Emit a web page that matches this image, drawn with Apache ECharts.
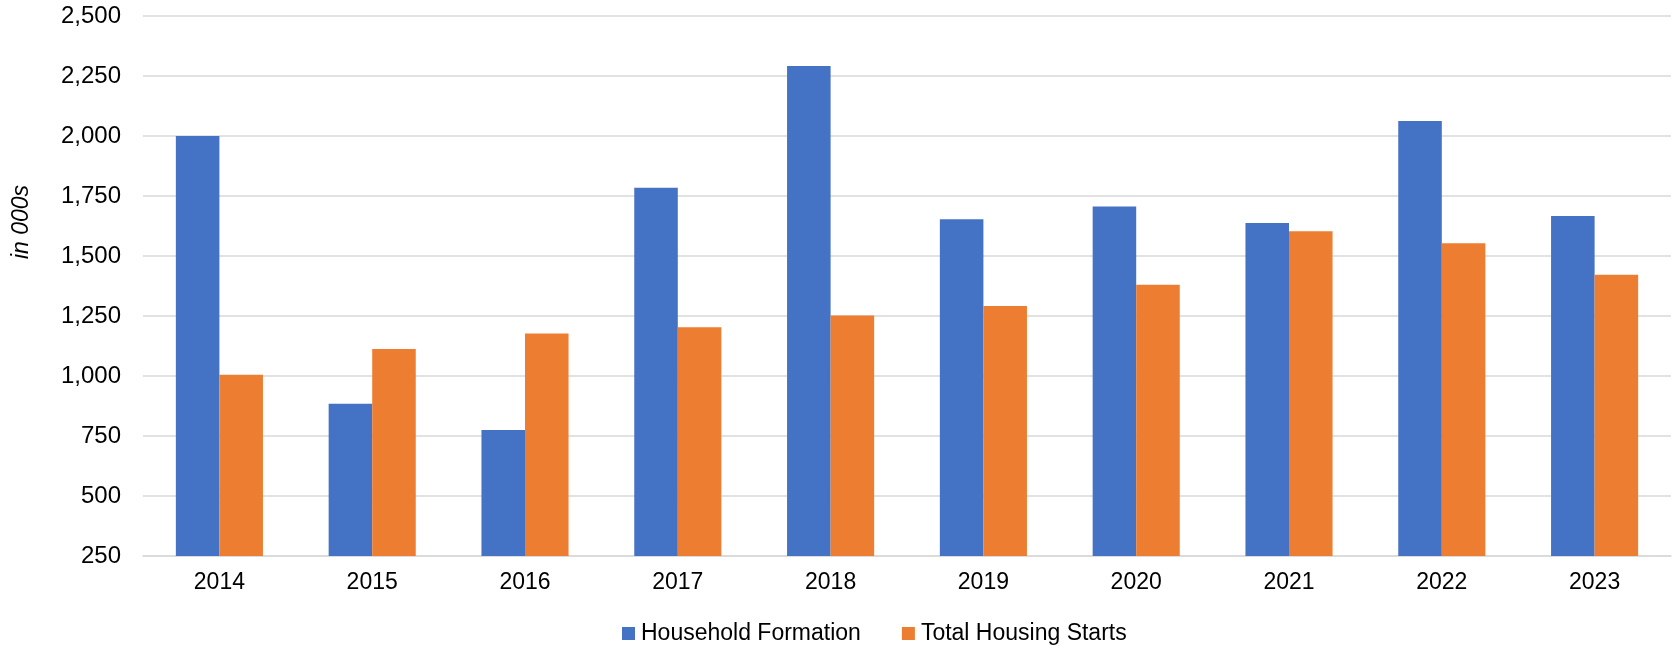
<!DOCTYPE html>
<html>
<head>
<meta charset="utf-8">
<script src="https://cdn.jsdelivr.net/npm/echarts@6/dist/echarts.min.js"></script>
<style>
  html, body { margin: 0; padding: 0; background: #fff; }
  #chart { width: 1673px; height: 649px; }
</style>
</head>
<body>
<div id="chart"></div>
<script>
// Annual household formation vs. total housing starts (thousands)
const years = ['2014', '2015', '2016', '2017', '2018', '2019', '2020', '2021', '2022', '2023'];
const householdFormation = [2000, 884, 775, 1784, 2292, 1653, 1706, 1637, 2063, 1667];
const housingStarts = [1005, 1113, 1177, 1203, 1252, 1292, 1380, 1603, 1553, 1422];
const seriesNames = ['Household Formation', 'Total Housing Starts'];
const axisTitle = 'in 000s';

const FONT = 'Liberation Sans, Arial, sans-serif';
const chart = echarts.init(document.getElementById('chart'), null, { renderer: 'canvas' });

chart.setOption({
  animation: false,
  backgroundColor: '#ffffff',
  color: ['#4472C4', '#ED7D31'],
  grid: { left: 143, right: 2, top: 16, bottom: 93, containLabel: false },
  legend: {
    left: 617,
    top: 617,
    itemWidth: 13,
    itemHeight: 13,
    itemGap: 41,
    icon: 'rect',
    textStyle: { fontFamily: FONT, fontSize: 23, color: '#000', padding: [0, 0, 0, 1] },
    data: seriesNames
  },
  xAxis: {
    type: 'category',
    data: years,
    axisTick: { show: false },
    axisLine: { lineStyle: { color: '#D9D9D9', width: 1.5 } },
    axisLabel: { fontFamily: FONT, fontSize: 23, color: '#000', margin: 15 }
  },
  yAxis: {
    type: 'value',
    min: 250,
    max: 2500,
    interval: 250,
    axisLine: { show: false },
    axisTick: { show: false },
    splitLine: { lineStyle: { color: '#D9D9D9', width: 1.5 } },
    axisLabel: {
      fontFamily: FONT, fontSize: 24, color: '#000', margin: 22,
      formatter: v => v.toLocaleString('en-US')
    }
  },
  graphic: [{
    type: 'text',
    x: 22,
    y: 222,
    rotation: Math.PI / 2,
    style: {
      text: axisTitle,
      fontFamily: FONT,
      fontSize: 23,
      fontStyle: 'italic',
      fill: '#000',
      textAlign: 'center',
      textVerticalAlign: 'middle'
    }
  }],
  series: [
    {
      name: seriesNames[0],
      type: 'bar',
      data: householdFormation,
      barGap: '0%',
      barCategoryGap: '43%'
    },
    {
      name: seriesNames[1],
      type: 'bar',
      data: housingStarts,
      barGap: '0%',
      barCategoryGap: '43%'
    }
  ]
});
</script>
</body>
</html>
